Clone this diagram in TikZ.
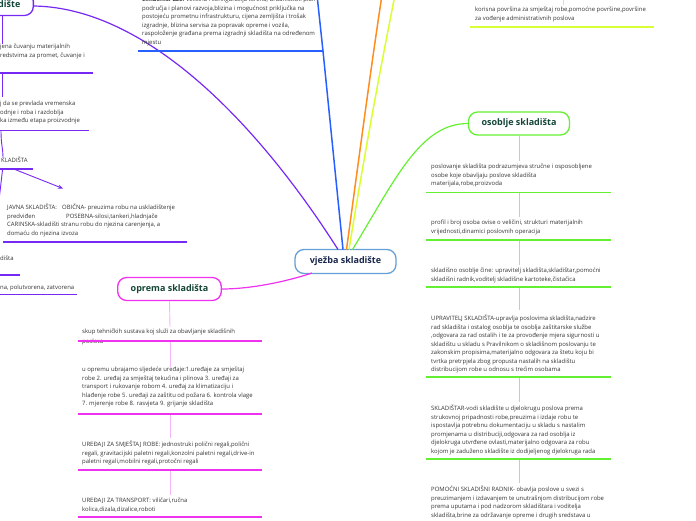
\documentclass[tikz,border=0pt]{standalone}
\usepackage{fontspec}
\setmainfont{Open Sans}
\usetikzlibrary{arrows.meta}
\definecolor{cpurple}{RGB}{118,40,245}
\definecolor{cblue}{RGB}{40,95,255}
\definecolor{corange}{RGB}{255,140,30}
\definecolor{cyellow}{RGB}{215,255,50}
\definecolor{cgreen}{RGB}{100,240,50}
\definecolor{cgreenl}{RGB}{150,245,110}
\definecolor{cmag}{RGB}{240,50,240}
\definecolor{cpink}{RGB}{247,180,247}
\definecolor{cborder}{RGB}{100,160,215}
\definecolor{tnavy}{RGB}{25,40,75}
\definecolor{tgreen}{RGB}{20,70,55}
\definecolor{tgray}{RGB}{50,50,50}
\begin{document}
\begin{tikzpicture}[x=1pt,y=-1pt,
  topic/.style={draw, rounded corners=9pt, line width=1.3pt, fill=white,
    font=\fontsize{9}{10}\selectfont\bfseries, inner xsep=13pt, minimum height=23pt},
  txt/.style={font=\fontsize{5.95}{8.5}\selectfont, text=tgray, align=left, inner sep=0pt,
    anchor=north west, execute at begin node={\rule{0pt}{6pt}}},
  uline/.style={line width=1.8pt},
  branch/.style={line width=1.2pt},
  vconn/.style={line width=0.9pt}]
\useasboundingbox (0,0) rectangle (696,520);

% ---------- central topic
\node[topic, draw=cborder, text=tnavy, minimum width=101pt, minimum height=24pt] (center) at (345.5,261.5) {vježba skladište};
\coordinate (cP) at (338,249.5);
\coordinate (cB) at (343,249.5);
\coordinate (cO) at (346.5,249.5);
\coordinate (cY) at (349,249.5);
\coordinate (cG) at (352.5,249.5);
\coordinate (cM) at (312,273);

% ---------- purple branch (left)
\node[topic, draw=cpurple, text=tgreen, text width=74pt, align=right, anchor=east] (tl) at (34,4) {dište};
\draw[branch, cpurple] (34,6) .. controls (150,8) and (262,130) .. (cP);

\node[txt] (p1) at (0,44) {jena čuvanju materijalnih\\redstvima za promet, čuvanje i};
\coordinate (p1a) at (-5,73); \coordinate (p1b) at (93,73);
\draw[uline, cpurple] (p1a) -- (p1b);
\draw[vconn, cpurple] (2,16) -- (2,44);

\node[txt] (p2) at (0,101) {j da se prevlada vremenska\\odnje i roba i razdoblja\\ka između etapa proizvodnje};
\coordinate (p2a) at (-5,130.5); \coordinate (p2b) at (89,130.5);
\draw[uline, cpurple] (p2a) -- (p2b);
\draw[vconn, cpurple] (2,74) -- (2,97);

\node[txt] (p3) at (1,156.5) {KLADIŠTA};
\coordinate (p3a) at (-5,169); \coordinate (p3b) at (33,169);
\draw[uline, cpurple] (p3a) -- (p3b);
\draw[vconn, cpurple] (1,131) .. controls (1,145) and (3,148) .. (3,158);
\draw[vconn, cpurple] (2.5,170) -- (-0.5,196);

\node[txt] (p4) at (7,204) {\makebox[55pt][l]{JAVNA SKLADIŠTA:}OBIČNA- preuzima robu na uskladištenje\\\makebox[59pt][l]{predviđen}POSEBNA-silosi,tankeri,hladnjače\\CARINSKA-skladišti stranu robu do njezina carenjenja, a\\domaću do njezina izvoza};
\coordinate (p4a) at (3,242); \coordinate (p4b) at (187,242);
\draw[uline, cpurple] (p4a) -- (p4b);
\draw[vconn, cpurple, -{Stealth[length=5pt,width=4pt]}] (15,169.5) -- (63,188.5);

\node[txt] (p5) at (0,254) {dišta};
\draw[uline, cpurple] (-5,275) -- (20,275);
\node[txt] (p6) at (0,283) {na, polutvorena, zatvorena};
\draw[uline, cpurple] (-5,294.5) -- (77,294.5);

% ---------- blue branch
\node[txt] (b1) at (142,-3) {\textbf{čimbenici uze:} veličina i konfiguracija terena, urbanistički plan\\područja i planovi razvoja,blizina i mogućnost priključka na\\postojeću prometnu infrastrukturu, cijena zemljišta i trošak\\izgradnje, blizina servisa za popravak opreme i vozila,\\raspoloženje građana prema izgradnji skladišta na određenom\\mjestu};
\coordinate (b1a) at (138,51); \coordinate (b1b) at (323,51);
\draw[uline, cblue] (b1a) -- (b1b);
\draw[branch, cblue, line width=1.5pt] (cB) -- (b1b) -- (317,-5);

% ---------- orange and yellow branches
\draw[branch, corange, line width=1.5pt] (cO) .. controls (360,150) and (372,60) .. (382,-5);
\draw[branch, cyellow, line width=1.5pt] (cY) .. controls (365,150) and (382,60) .. (395,-5);
\node[txt] (y1) at (475,7) {korisna površina za smještaj robe,pomoćne površine,površine\\za vođenje administrativnih poslova};
\coordinate (y1a) at (470,27); \coordinate (y1b) at (654,27);
\draw[uline, cyellow] (y1a) -- (y1b);
\draw[vconn, cyellow] (563,-2) -- (563,5);

% ---------- green branch
\node[topic, draw=cgreen, text=tgreen, minimum width=98pt] (os) at (519,123.5) {osoblje skladišta};
\draw[branch, cgreen] (cG) .. controls (395,180) and (420,123.5) .. (os.west);

\node[txt] (g1) at (431,164) {poslovanje skladišta podrazumjeva stručne i osposobljene\\osobe koje obavljaju poslove skladišta\\materijala,robe,proizvoda};
\draw[uline, cgreen] (426,192.5) -- (611,192.5);
\draw[vconn, cgreenl] (os.south) -- (519,161);

\node[txt] (g2) at (431,220) {profil i broj osoba ovise o veličini, strukturi materijalnih\\vrijednosti,dinamici poslovnih operacija};
\draw[uline, cgreen] (426,240) -- (611,240);
\draw[vconn, cgreenl] (519,193) -- (519,217);

\node[txt] (g3) at (431,268) {skladišno osoblje čine: upravitelj skladišta,skladištar,pomoćni\\skladišni radnik,voditelj skladišne kartoteke,čistačica};
\draw[uline, cgreen] (426,287) -- (611,287);
\draw[vconn, cgreenl] (519,241) -- (519,265);

\node[txt] (g4) at (431,315) {UPRAVITELJ SKLADIŠTA-upravlja poslovima skladišta,nadzire\\rad skladišta i ostalog osoblja te osoblja zaštitarske službe\\,odgovara za rad ostalih i te za provođenje mjera sigurnosti u\\skladištu u skladu s Pravilnikom o skladišnom poslovanju te\\zakonskim propisima,materijalno odgovara za štetu koju bi\\tvrtka pretrpjela zbog propusta nastalih na skladištu\\distribucijom robe u odnosu s trećim osobama};
\draw[uline, cgreen] (426,377) -- (611,377);
\draw[vconn, cgreenl] (519,288) -- (519,310);

\node[txt] (g5) at (431,405) {SKLADIŠTAR-vodi skladište u djelokrugu poslova prema\\strukovnoj pripadnosti robe,preuzima i izdaje robu te\\ispostavlja potrebnu dokumentaciju u skladu s nastalim\\promjenama u distribuciji,odgovara za rad osoblja iz\\djelokruga utvrđene ovlasti,materijalno odgovara za robu\\kojom je zaduženo skladište iz dodijeljenog djelokruga rada};
\draw[uline, cgreen] (426,459) -- (611,459);
\draw[vconn, cgreenl] (519,378) -- (519,402);

\node[txt] (g6) at (431,486) {POMOĆNI SKLADIŠNI RADNIK- obavlja poslove u svezi s\\preuzimanjem i izdavanjem te unutrašnjom distribucijom robe\\prema uputama i pod nadzorom skladištara i voditelja\\skladišta,brine za održavanje opreme i drugih sredstava u};
\draw[vconn, cgreenl] (519,460) -- (519,483);

% ---------- magenta branch
\node[topic, draw=cmag, text=tgreen, minimum width=99pt] (op) at (169.5,289) {oprema skladišta};
\draw[branch, cmag] (op.east) .. controls (250,289) and (285,282) .. (cM);

\node[txt] (m1) at (82,329) {skup tehničkih sustava koj služi za obavljanje skladišnih\\[1.5pt]poslova};
\draw[uline, cmag] (78,341) -- (262,341);
\draw[vconn, cpink] (op.south) -- (170,327);

\node[txt] (m2) at (82,367) {u opremu ubrajamo sljedeće uređaje:1.uređaje za smještaj\\robe 2. uređaj za smještaj tekućina i plinova 3. uređaji za\\transport i rukovanje robom 4. uređaj za klimatizaciju i\\hlađenje robe 5. uređaji za zaštitu od požara 6. kontrola vlage\\7. mjerenje robe 8. rasvjeta 9. grijanje skladišta};
\draw[uline, cmag] (78,414) -- (262,414);
\draw[vconn, cpink] (170,342) -- (170,367);

\node[txt] (m3) at (82,441) {UREĐAJI ZA SMJEŠTAJ ROBE: jednostruki polični regali,polični\\regali, gravitacijski paletni regali,konzolni paletni regali,drive-in\\paletni regali,mobilni regali,protočni regali};
\draw[uline, cmag] (78,470) -- (262,470);
\draw[vconn, cpink] (170,415) -- (170,438);

\node[txt] (m4) at (82,498) {UREĐAJI ZA TRANSPORT: viličari,ručna\\kolica,dizala,dizalice,roboti};
\draw[uline, cmag] (78,517) -- (262,517);
\draw[vconn, cpink] (170,471) -- (170,495);

\end{tikzpicture}
\end{document}
